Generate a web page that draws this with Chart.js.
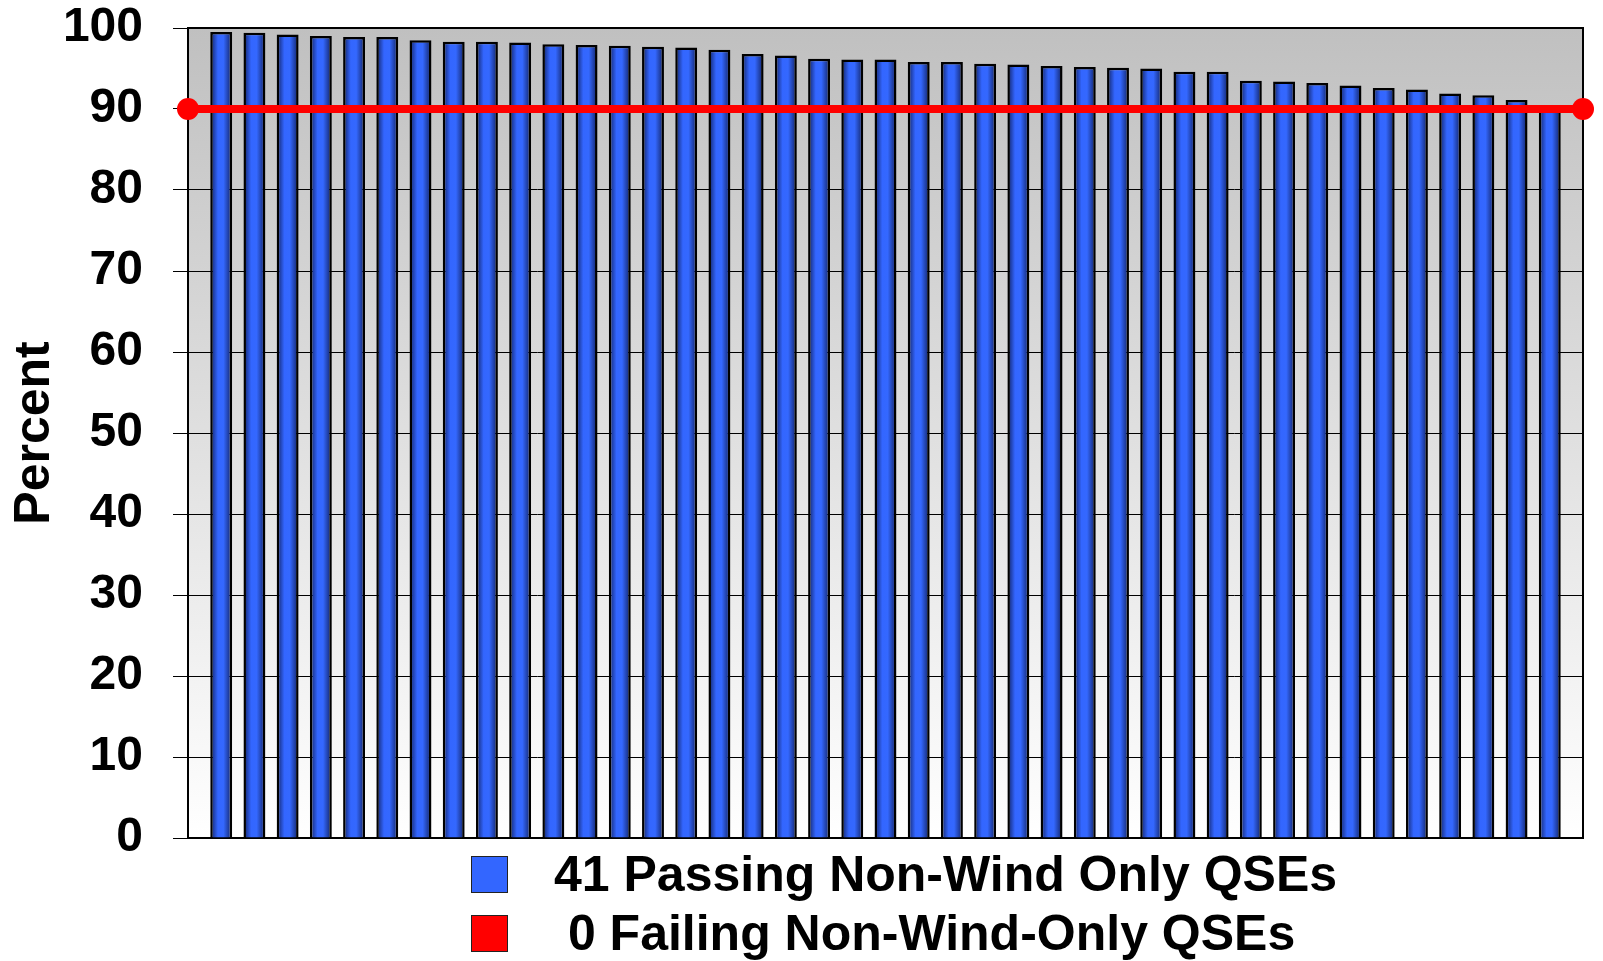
<!DOCTYPE html>
<html>
<head>
<meta charset="utf-8">
<script src="https://cdn.jsdelivr.net/npm/chart.js@4.4.1/dist/chart.umd.min.js"></script>
<style>
  html, body { margin: 0; padding: 0; background: #fff; }
  #wrap { position: relative; width: 1603px; height: 961px; }
  #legend { position: absolute; left: 0; top: 0; width: 100%; height: 100%; pointer-events: none; }
  .row { position: absolute; left: 471px; display: flex; align-items: center; }
  .box { width: 35px; height: 35px; border: 1.5px solid #222; box-sizing: content-box; }
  .lbl { margin-left: 46px; font: bold 50px Arial, "Liberation Sans", sans-serif; line-height: 50px; white-space: pre; color: #000; }
</style>
</head>
<body>
<div id="wrap">
  <canvas id="chart"></canvas>
  <div id="legend"></div>
</div>
<script>
// Data
const passingPct = [
    99.5, 99.4, 99.2, 99.0, 98.9, 98.9, 98.5, 98.3, 98.3, 98.2,
    98.0, 97.9, 97.8, 97.7, 97.6, 97.3, 96.8, 96.6, 96.2, 96.1,
    96.1, 95.8, 95.8, 95.6, 95.5, 95.3, 95.2, 95.1, 95.0, 94.6,
    94.6, 93.5, 93.4, 93.2, 92.9, 92.6, 92.4, 91.9, 91.7, 91.1,
    90.3
];
const failingPct = [];
const targetPct = 90;
const legendLabels = ['41 Passing Non-Wind Only QSEs', ' 0 Failing Non-Wind-Only QSEs'];
const legendColors = ['#3366ff', '#ff0000'];
const yTicks = [0, 10, 20, 30, 40, 50, 60, 70, 80, 90, 100];

const BAR_RATIO = 0.66;
const xMax = passingPct.length + 1;

// Cylinder-like shading on each bar
function barFill(ctx) {
    const chart = ctx.chart;
    const xs = chart.scales.x;
    if (!chart.chartArea || !xs || ctx.type !== 'data') return '#3366ff';
    const cx = xs.getPixelForValue(ctx.parsed.x);
    const hw = (xs.getPixelForValue(1) - xs.getPixelForValue(0)) * BAR_RATIO / 2;
    const g = chart.ctx.createLinearGradient(cx - hw, 0, cx + hw, 0);
    g.addColorStop(0, '#10205f');
    g.addColorStop(0.35, '#3366ff');
    g.addColorStop(0.6, '#3468ff');
    g.addColorStop(1, '#10205f');
    return g;
}

const plotBackground = {
    id: 'plotBackground',
    beforeDraw(chart) {
        const { ctx, chartArea: a } = chart;
        const g = ctx.createLinearGradient(0, a.top, 0, a.bottom);
        g.addColorStop(0, '#c0c0c0');
        g.addColorStop(1, '#ffffff');
        ctx.save();
        ctx.fillStyle = g;
        ctx.fillRect(a.left, a.top, a.right - a.left, a.bottom - a.top);
        ctx.restore();
    },
    beforeDatasetsDraw(chart) {
        const { ctx, chartArea: a } = chart;
        ctx.save();
        ctx.strokeStyle = '#000';
        ctx.lineWidth = 2;
        ctx.strokeRect(a.left, a.top, a.right - a.left, a.bottom - a.top);
        ctx.restore();
    }
};

const ctx = document.getElementById('chart').getContext('2d');
new Chart(ctx, {
    type: 'bar',
    data: {
        datasets: [
            {
                type: 'line',
                label: 'Target',
                data: [{ x: 0, y: targetPct }, { x: xMax, y: targetPct }],
                borderColor: '#ff0000',
                borderWidth: 8,
                pointRadius: 11,
                pointBackgroundColor: '#ff0000',
                pointBorderWidth: 0,
                clip: false,
                order: 0
            },
            {
                label: legendLabels[0],
                data: passingPct.map((v, i) => ({ x: i + 1, y: v })),
                backgroundColor: barFill,
                borderColor: '#000',
                borderWidth: 2.5,
                grouped: false,
                categoryPercentage: 1,
                barPercentage: BAR_RATIO,
                order: 1
            },
            {
                label: legendLabels[1],
                data: failingPct,
                backgroundColor: legendColors[1],
                borderColor: '#000',
                borderWidth: 2,
                grouped: false,
                order: 2
            }
        ]
    },
    options: {
        responsive: true,
        maintainAspectRatio: false,
        animation: false,
        layout: { padding: { left: 0, top: 28, right: 20, bottom: 123 } },
        scales: {
            x: {
                type: 'linear',
                min: 0,
                max: xMax,
                offset: false,
                display: false
            },
            y: {
                min: 0,
                max: 100,
                afterBuildTicks: (scale) => { scale.ticks = yTicks.map(v => ({ value: v })); },
                afterFit: (scale) => {
                    scale.width = 188;
                    scale.paddingTop = 0;
                    scale.paddingBottom = 0;
                },
                ticks: {
                    color: '#000',
                    padding: 30,
                    font: { family: 'Arial, "Liberation Sans", sans-serif', size: 48, weight: 'bold' }
                },
                grid: { color: '#000', lineWidth: 1, tickLength: 15 },
                border: { display: true, color: '#000', width: 2 },
                title: {
                    display: true,
                    text: 'Percent',
                    color: '#000',
                    padding: { top: 5, bottom: 0 },
                    font: { family: 'Arial, "Liberation Sans", sans-serif', size: 50, weight: 'bold' }
                }
            }
        },
        plugins: {
            legend: { display: false },
            tooltip: { enabled: false }
        }
    },
    plugins: [plotBackground]
});

// Legend below the plot
const legendTops = [849, 908];
const legendEl = document.getElementById('legend');
legendLabels.forEach((text, i) => {
    const row = document.createElement('div');
    row.className = 'row';
    row.style.top = legendTops[i] + 'px';
    row.innerHTML = `<div class="box" style="background:${legendColors[i]}"></div><span class="lbl"></span>`;
    row.querySelector('.lbl').textContent = text;
    legendEl.appendChild(row);
});
</script>
</body>
</html>
